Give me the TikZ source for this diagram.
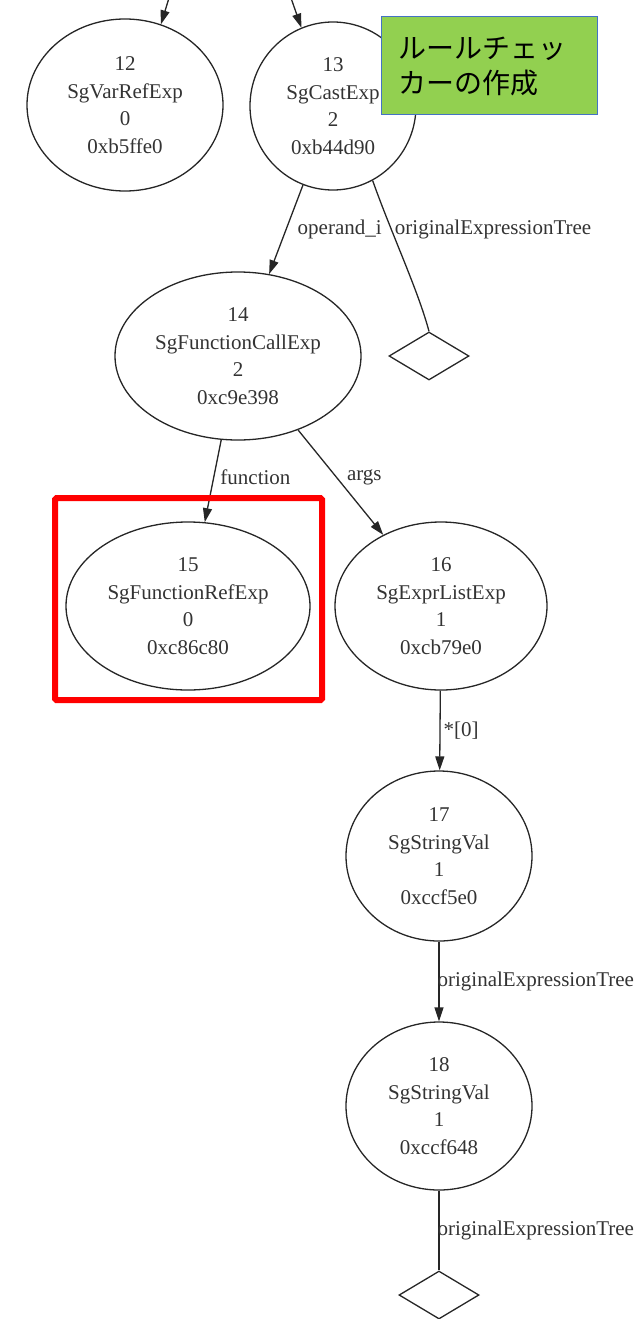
\documentclass[tikz,border=0pt]{standalone}
\usepackage{fontspec}
\setmainfont{Liberation Serif}
\newfontfamily\jpfont{Noto Sans CJK JP}
\usetikzlibrary{shapes.geometric,arrows.meta}
\definecolor{notefill}{HTML}{92D050}
\definecolor{noteedge}{HTML}{4472C4}
\begin{document}
\begin{tikzpicture}[x=1pt,y=-1pt,
  ast/.style={ellipse,draw=black!85,line width=1.3pt,inner sep=0pt,align=center,
    font=\fontsize{21}{27.5}\selectfont,text=black!80,minimum height=168pt},
  nil/.style={diamond,draw=black!85,line width=1.3pt,inner sep=0pt,
    minimum width=80pt,minimum height=48pt},
  link/.style={draw=black!85,line width=1.3pt},
  arr/.style={link,-{Triangle[length=14pt,width=9pt]}},
  lbl/.style={font=\fontsize{21}{24}\selectfont,text=black!80,inner sep=0pt,anchor=west},
  mark box/.style={draw=red,line width=6pt,rounded corners=1.5pt,inner sep=0pt},
  note/.style={fill=notefill,draw=noteedge,line width=1pt,align=left,
    font=\jpfont\fontsize{28}{35}\selectfont,text width=182pt,inner xsep=17pt,
    inner ysep=0pt,minimum height=98pt}
]
\useasboundingbox (0,0) rectangle (637,1319);

% AST nodes
\node[ast,minimum width=196pt,minimum height=172pt] (n12) at (125,105) {12\\SgVarRefExp\\0\\0xb5ffe0};
\node[ast,minimum width=166pt] (n13) at (333,106) {13\\SgCastExp\\2\\0xb44d90};
\node[ast,minimum width=246pt] (n14) at (238,356) {14\\SgFunctionCallExp\\2\\0xc9e398};
\node[nil] (d13) at (429,356) {};
\node[ast,minimum width=244pt] (n15) at (188,606) {15\\SgFunctionRefExp\\0\\0xc86c80};
\node[ast,minimum width=212pt] (n16) at (441,606) {16\\SgExprListExp\\1\\0xcb79e0};
\node[ast,minimum width=186pt,minimum height=170pt] (n17) at (439,856) {17\\SgStringVal\\1\\0xccf5e0};
\node[ast,minimum width=186pt] (n18) at (439,1106) {18\\SgStringVal\\1\\0xccf648};
\node[nil] (d18) at (439,1295) {};

% incoming edges from above the cut
\coordinate (up12) at (169,-2);
\coordinate (up13) at (291,-2);
\draw[arr] (up12) -- (n12.66);
\draw[arr] (up13) -- (n13.112);

% edges
\draw[arr] (n13) -- node[lbl,pos=0.5,xshift=11pt] {operand\_i} (n14);
\draw[link] (n13.-62) .. controls (392,235) and (418,290) ..
  node[lbl,pos=0.3,xshift=3pt] {originalExpressionTree} (d13.north);
\draw[arr] (n14) -- node[lbl,pos=0.45,xshift=6pt] {function} (n15);
\draw[arr] (n14) -- node[lbl,pos=0.45,xshift=10pt] {args} (n16);
\draw[arr] (n16) -- node[lbl,pos=0.5,xshift=3pt] {*[0]} (n17);
\draw[arr] (n17) -- node[lbl,pos=0.5,xshift=-2pt] {originalExpressionTree} (n18);
\draw[link] (n18) -- node[lbl,pos=0.5,xshift=-2pt] {originalExpressionTree} (d18);

% highlight and note
\node[mark box,minimum width=267pt,minimum height=202pt] (hl) at (188.5,599) {};
\node[note,minimum width=216pt] (memo) at (489,66) {ルールチェッ\\カーの作成};
\end{tikzpicture}
\end{document}
